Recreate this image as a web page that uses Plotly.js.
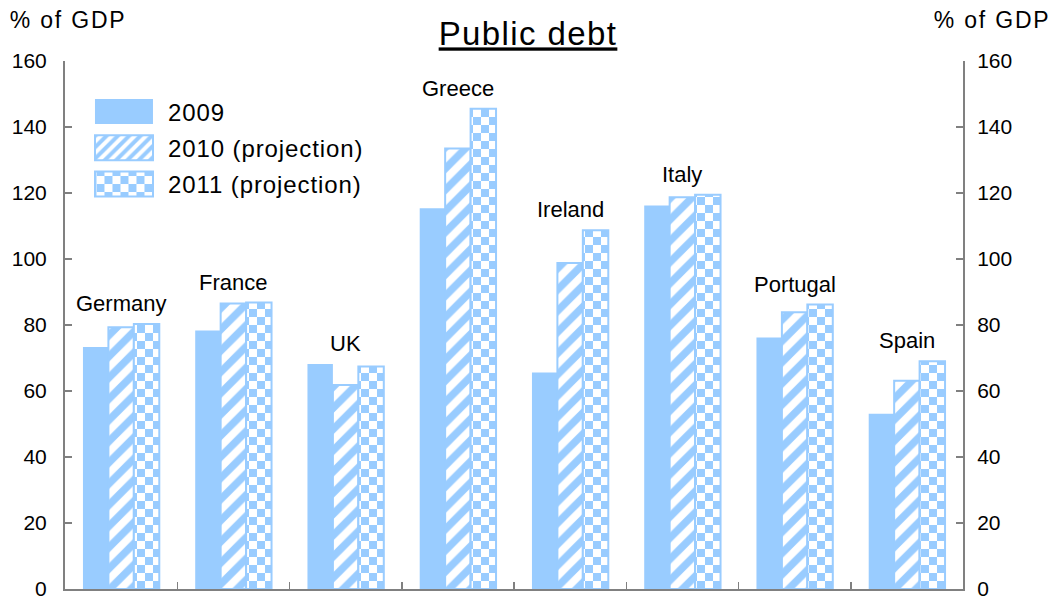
<!DOCTYPE html>
<html>
<head>
<meta charset="utf-8">
<script src="https://cdn.plot.ly/plotly-3.0.1.min.js"></script>
<style>
html,body{margin:0;padding:0;background:#fff;}
#chart{width:1056px;height:603px;}
.legendtext{letter-spacing:0.9px;}
.gtitle{letter-spacing:1.4px;}
</style>
</head>
<body>
<div id="chart"></div>
<script>
const countries = ["Germany","France","UK","Greece","Ireland","Italy","Portugal","Spain"];
const debt2009 = [73.3, 78.3, 68.2, 115.4, 65.6, 116.2, 76.2, 53.1];
const debt2010 = [79.3, 86.5, 61.8, 133.5, 98.8, 118.7, 83.9, 63.1];
const debt2011 = [80.3, 86.8, 67.4, 145.5, 108.7, 119.5, 86.2, 69.0];
const seriesNames = ["2009", "2010 (projection)", "2011 (projection)"];
const yTicks = [0, 20, 40, 60, 80, 100, 120, 140, 160];

const BLUE = "#99ccff";
const FONT = "Liberation Sans, Arial, sans-serif";
const CHECK = 16; // checkerboard period

const traces = [
  {type:"bar", name:seriesNames[0], x:countries, y:debt2009, legendgroup:"a",
   marker:{color:BLUE, line:{color:BLUE, width:0}}, hoverinfo:"y"},
  {type:"bar", name:seriesNames[1], x:countries, y:debt2010, legendgroup:"b",
   marker:{color:"#ffffff", line:{color:BLUE, width:2},
     pattern:{shape:"/", fgcolor:BLUE, bgcolor:"#ffffff", size:15, solidity:0.5, fillmode:"replace"}}, hoverinfo:"y"},
  {type:"bar", name:seriesNames[2], x:countries, y:debt2011, legendgroup:"c",
   marker:{color:"#ffffff", line:{color:BLUE, width:2},
     pattern:{shape:".", fgcolor:BLUE, bgcolor:"#ffffff", size:8, solidity:0.5, fillmode:"replace"}}, hoverinfo:"y"},
  {type:"bar", x:[], y:[], yaxis:"y2", showlegend:false, hoverinfo:"skip"}
];

const annotations = countries.map((c, i) => ({
  x: c, y: Math.max(debt2009[i], debt2010[i], debt2011[i]),
  xref:"x", yref:"y", text:c, showarrow:false, yanchor:"bottom", yshift:6,
  font:{family:FONT, size:22, color:"#000"}
}));
annotations.push(
  {xref:"paper", yref:"paper", x:-0.063, y:1.0, xshift:7, yshift:26, xanchor:"left", yanchor:"bottom",
   text:"% of GDP", showarrow:false, font:{family:FONT, size:23, color:"#000"}},
  {xref:"paper", yref:"paper", x:1.0955, y:1.0, xshift:-4, yshift:26, xanchor:"right", yanchor:"bottom",
   text:"% of GDP", showarrow:false, font:{family:FONT, size:23, color:"#000"}}
);

const yAxisCommon = {
  range:[0,160], tickvals:yTicks, ticktext:yTicks.map(String),
  ticks:"inside", ticklen:7, tickwidth:1.5, tickcolor:"#808080",
  showline:true, linecolor:"#808080", linewidth:2,
  showgrid:false, zeroline:false, fixedrange:true,
  tickfont:{family:FONT, size:21, color:"#000"}
};

const layout = {
  width:1056, height:603,
  margin:{l:65, r:93, t:61, b:14},
  paper_bgcolor:"#fff", plot_bgcolor:"#fff",
  barmode:"group", bargap:0.32, bargroupgap:0,
  title:{text:"<u>Public debt</u>", x:0.5, xref:"container", xanchor:"center",
         y:0.963, yref:"container", yanchor:"top",
         font:{family:FONT, size:33, color:"#000"}},
  xaxis:{type:"category", tickson:"boundaries", ticks:"inside", ticklen:7, tickwidth:1.5,
         tickcolor:"#808080", showline:true, linecolor:"#808080", linewidth:2,
         showticklabels:false, showgrid:false, zeroline:false, fixedrange:true},
  yaxis:Object.assign({}, yAxisCommon, {side:"left", ticklabelstandoff:12}),
  yaxis2:Object.assign({}, yAxisCommon, {side:"right", overlaying:"y", ticklabelstandoff:8}),
  legend:{x:0.0267, y:0.946, xanchor:"left", yanchor:"top", bgcolor:"rgba(0,0,0,0)",
          font:{family:FONT, size:24, color:"#000"}, itemwidth:69,
          traceorder:"grouped", tracegroupgap:2},
  annotations:annotations,
  showlegend:true
};

function applyTweaks() {
  const ns = "http://www.w3.org/2000/svg";
  const svg = document.querySelector("#chart svg.main-svg");
  let defs = svg.querySelector("defs");
  let pat = document.getElementById("checker2011");
  if (!pat) {
    pat = document.createElementNS(ns, "pattern");
    pat.setAttribute("id", "checker2011");
    pat.setAttribute("patternUnits", "userSpaceOnUse");
    pat.setAttribute("x", 0); pat.setAttribute("y", 0);
    pat.setAttribute("width", CHECK); pat.setAttribute("height", CHECK);
    const h = CHECK / 2;
    const mk = (x, y, w, hh, f) => { const r = document.createElementNS(ns, "rect");
      r.setAttribute("x", x); r.setAttribute("y", y); r.setAttribute("width", w);
      r.setAttribute("height", hh); r.setAttribute("fill", f); pat.appendChild(r); };
    mk(0, 0, CHECK, CHECK, "#ffffff");
    mk(0, 0, h, h, BLUE);
    mk(h, h, h, h, BLUE);
    defs.appendChild(pat);
  }
  const barTraces = document.querySelectorAll("#chart .barlayer .trace");
  if (barTraces[2]) barTraces[2].querySelectorAll("path").forEach(p => {
    p.style.setProperty("fill", "url(#checker2011)", "important");
  });
  const legTraces = document.querySelectorAll("#chart .legend .traces");
  legTraces.forEach(t => {
    t.querySelectorAll(".legendpoints path").forEach(pt => {
      pt.setAttribute("d", "M-33.5,-12.5H24.5V12.5H-33.5Z");
    });
  });
  if (legTraces[2]) legTraces[2].querySelectorAll(".legendpoints path").forEach(p => {
    p.style.setProperty("fill", "url(#checker2011)", "important");
  });
  document.querySelectorAll("#chart .annotation-text").forEach(t => {
    if (t.textContent === "% of GDP") t.style.letterSpacing = "1.8px";
  });
}

Plotly.newPlot("chart", traces, layout, {displayModeBar:false, staticPlot:true}).then(() => {
  applyTweaks();
  setTimeout(applyTweaks, 50);
});
</script>
</body>
</html>
